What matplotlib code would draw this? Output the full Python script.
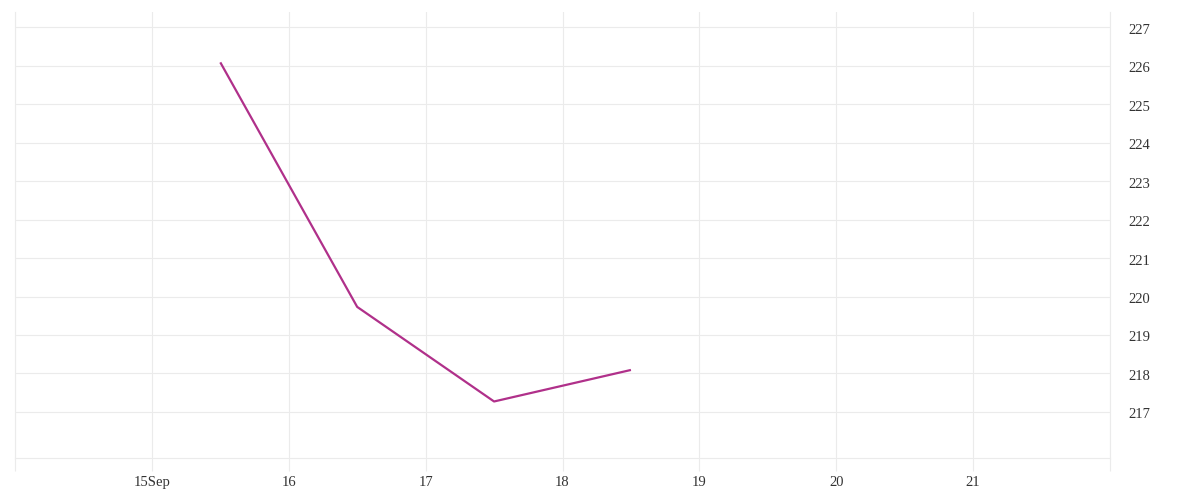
import matplotlib
matplotlib.use("Agg")
import matplotlib.pyplot as plt
import matplotlib.dates as mdates
import matplotlib.transforms as mtransforms
import datetime as dt

# data
dates = [dt.datetime(2023, 9, 15, 12), dt.datetime(2023, 9, 16, 12),
         dt.datetime(2023, 9, 17, 12), dt.datetime(2023, 9, 18, 12)]
values = [226.09, 219.73, 217.27, 218.09]

tick_days = [dt.datetime(2023, 9, d) for d in range(15, 22)]
tick_labels = ["15Sep", "16", "17", "18", "19", "20", "21"]
y_ticks = list(range(217, 228))

plt.rcParams['font.family'] = ['Liberation Serif', 'DejaVu Serif']

fig = plt.figure(figsize=(12, 5), dpi=100)
ax = fig.add_axes([0.0125, 0.084, 0.9125, 0.892])

grid_col = "#ebebeb"
ax.plot(dates, values, color="#b0308a", linewidth=1.6, solid_capstyle="butt")

ax.set_xlim(dt.datetime(2023, 9, 14), dt.datetime(2023, 9, 22))
ax.set_ylim(215.8, 227.4)

ax.set_xticks(tick_days)
ax.set_xticklabels(tick_labels)
ax.xaxis.set_minor_locator(mdates.DayLocator())
ax.set_yticks(y_ticks)
ax.set_yticklabels([str(v) for v in y_ticks])

ax.yaxis.tick_right()
ax.grid(True, which="major", color=grid_col, linewidth=0.8)
ax.grid(True, which="minor", axis="x", color=grid_col, linewidth=0.8)

ax.tick_params(axis="x", which="both", length=9, color=grid_col, width=0.8,
               labelsize=10.5, labelcolor="#333333", pad=4)
ax.tick_params(axis="y", length=0, labelsize=10.5, labelcolor="#333333", pad=13)

ax.spines["top"].set_visible(False)
for side in ["left", "right", "bottom"]:
    ax.spines[side].set_color(grid_col)
    ax.spines[side].set_linewidth(0.8)

# y labels sit a touch below their gridlines
shift = mtransforms.ScaledTranslation(0, -3 / 100, fig.dpi_scale_trans)
for lbl in ax.get_yticklabels():
    lbl.set_verticalalignment("center")
    lbl.set_transform(lbl.get_transform() + shift)

fig.savefig("out.png", dpi=100)
